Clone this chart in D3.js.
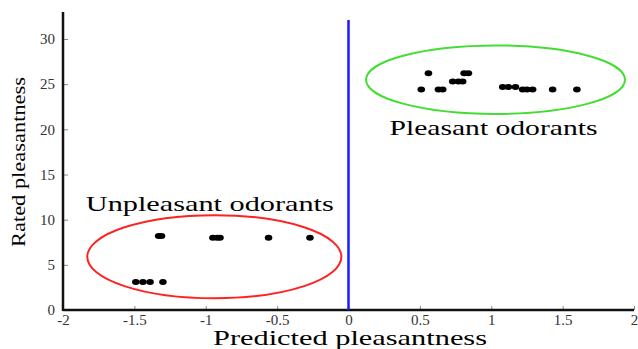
<!DOCTYPE html>
<html>
<head>
<meta charset="utf-8">
<script src="https://cdn.jsdelivr.net/npm/d3@7"></script>
<style>
  body { margin: 0; background: #fff; }
</style>
</head>
<body>
<div id="chart"></div>
<script>
// data
var unpleasantX = [-1.33, -1.31, -0.95, -0.92, -0.90, -0.56, -0.27, -1.49, -1.44, -1.39, -1.30];
var unpleasantY = [8.2, 8.2, 8.0, 8.0, 8.0, 8.0, 8.0, 3.1, 3.1, 3.1, 3.1];

var pleasantX = [0.51, 0.56, 0.63, 0.66, 0.73, 0.77, 0.80, 0.81, 0.84, 1.08, 1.12, 1.17, 1.22, 1.25, 1.29, 1.43, 1.60];
var pleasantY = [24.4, 26.2, 24.4, 24.4, 25.3, 25.3, 25.3, 26.2, 26.2, 24.7, 24.7, 24.7, 24.4, 24.4, 24.4, 24.4, 24.4];

var xTicks = [-2, -1.5, -1, -0.5, 0, 0.5, 1, 1.5, 2];
var xTickLabels = ["-2", "-1.5", "-1", "-0.5", "0", "0.5", "1", "1.5", "2"];
var yTicks = [0, 5, 10, 15, 20, 25, 30];

// group outlines: [cx, cy, rx, ry] in data units
var unpleasantGroup = [-0.94, 5.9, 0.89, 4.6];
var pleasantGroup = [1.03, 25.5, 0.907, 3.79];

var width = 638, height = 349;
var serif = "'Liberation Serif', 'Times New Roman', serif";

var svg = d3.select("#chart")
    .append("svg")
    .attr("width", width)
    .attr("height", height);

var x = d3.scaleLinear().domain([-2, 2]).range([63, 634]);
var y = d3.scaleLinear().domain([0, 30]).range([310, 39]);

// x axis
var xAxis = d3.axisBottom(x)
    .tickValues(xTicks)
    .tickFormat(function(d, i) { return xTickLabels[i]; })
    .tickSizeInner(-4)
    .tickSizeOuter(0)
    .tickPadding(4);

var gx = svg.append("g")
    .attr("transform", "translate(0," + y(0) + ")")
    .call(xAxis);
gx.select(".domain").remove();
gx.selectAll(".tick line").attr("stroke", "#888");
gx.selectAll(".tick text")
    .style("font-family", serif)
    .style("font-size", "15px")
    .attr("fill", "#333");

// y axis
var yAxis = d3.axisLeft(y)
    .tickValues(yTicks)
    .tickSizeInner(-5)
    .tickSizeOuter(0)
    .tickPadding(8);

var gy = svg.append("g")
    .attr("transform", "translate(" + x(-2) + ",0)")
    .call(yAxis);
gy.select(".domain").remove();
gy.selectAll(".tick line").attr("stroke", "#888");
gy.selectAll(".tick text")
    .style("font-family", serif)
    .style("font-size", "15px")
    .attr("fill", "#333");

// axis lines
svg.append("line")
    .attr("x1", x(-2)).attr("x2", x(2))
    .attr("y1", y(0)).attr("y2", y(0))
    .attr("stroke", "#111").attr("stroke-width", 2.5);

svg.append("line")
    .attr("x1", x(-2)).attr("x2", x(-2))
    .attr("y1", y(0) + 1).attr("y2", y(33))
    .attr("stroke", "#111").attr("stroke-width", 2.5);

// zero line
svg.append("line")
    .attr("x1", x(0)).attr("x2", x(0))
    .attr("y1", y(0)).attr("y2", y(32.1))
    .attr("stroke", "#1a1aff").attr("stroke-width", 2.5);

// group ellipses
function groupEllipse(g, color) {
    svg.append("ellipse")
        .attr("cx", x(g[0]))
        .attr("cy", y(g[1]))
        .attr("rx", x(g[0] + g[2]) - x(g[0]))
        .attr("ry", y(g[1]) - y(g[1] + g[3]))
        .attr("fill", "none")
        .attr("stroke", color)
        .attr("stroke-width", 2);
}
groupEllipse(unpleasantGroup, "#ff2222");
groupEllipse(pleasantGroup, "#44dd33");

// points
function dots(xs, ys) {
    svg.append("g")
        .selectAll("ellipse")
        .data(xs)
        .enter().append("ellipse")
        .attr("cx", function(d) { return x(d); })
        .attr("cy", function(d, i) { return y(ys[i]); })
        .attr("rx", 3.8)
        .attr("ry", 3)
        .attr("fill", "#000");
}
dots(unpleasantX, unpleasantY);
dots(pleasantX, pleasantY);

// group labels
svg.append("text")
    .attr("x", x(-1.84)).attr("y", y(11.0))
    .style("font-family", serif)
    .style("font-size", "21px")
    .attr("textLength", 248)
    .attr("lengthAdjust", "spacingAndGlyphs")
    .text("Unpleasant odorants");

svg.append("text")
    .attr("x", x(0.287)).attr("y", y(19.4))
    .style("font-family", serif)
    .style("font-size", "22px")
    .attr("textLength", 208)
    .attr("lengthAdjust", "spacingAndGlyphs")
    .text("Pleasant odorants");

// axis titles
svg.append("text")
    .attr("x", 350).attr("y", 345)
    .attr("text-anchor", "middle")
    .style("font-family", serif)
    .style("font-size", "22px")
    .attr("textLength", 274)
    .attr("lengthAdjust", "spacingAndGlyphs")
    .text("Predicted pleasantness");

svg.append("text")
    .attr("transform", "translate(25,162) rotate(-90)")
    .attr("text-anchor", "middle")
    .style("font-family", serif)
    .style("font-size", "19px")
    .attr("textLength", 170)
    .attr("lengthAdjust", "spacingAndGlyphs")
    .text("Rated pleasantness");
</script>
</body>
</html>
